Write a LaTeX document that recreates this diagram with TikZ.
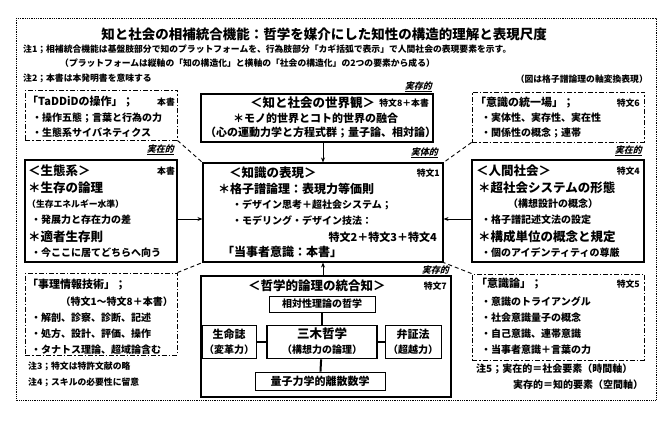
\documentclass[tikz,border=0pt]{standalone}
\usepackage{fontspec}
\setmainfont{Noto Sans CJK JP}
\newfontfamily\tagfont{Noto Sans CJK JP}[FakeSlant=0.25]
\usetikzlibrary{arrows.meta}
\newcommand\ftitle{\fontsize{13.5}{15}\selectfont\bfseries}
\newcommand\fhead{\fontsize{12.5}{14}\selectfont\bfseries}
\newcommand\fstar{\fontsize{12}{14}\selectfont\bfseries}
\newcommand\fsub{\fontsize{11}{13}\selectfont\bfseries}
\newcommand\fitem{\fontsize{10}{12}\selectfont\bfseries}
\newcommand\fnote{\fontsize{8.8}{10}\selectfont\bfseries}
\tikzset{
  sbox/.style={draw,line width=1.1pt,inner sep=0pt},
  ibox/.style={draw,line width=0.8pt,inner sep=0pt},
  dbox/.style={draw,line width=0.9pt,dash pattern=on 5pt off 2pt on 1.5pt off 2pt,inner sep=0pt},
  lt/.style={anchor=west,inner sep=0pt},
  rt/.style={anchor=east,inner sep=0pt},
  ct/.style={inner sep=0pt},
  tag/.style={anchor=east,inner sep=0pt,font=\tagfont\bfseries\fontsize{9}{10}\selectfont},
  arr/.style={-{Stealth[length=5pt,width=4pt]},line width=0.8pt},
  dlink/.style={line width=0.9pt,dash pattern=on 4pt off 3pt},
  tie/.style={line width=2pt}
}
\begin{document}
\begin{tikzpicture}[x=1pt,y=-1pt]
\useasboundingbox (0,0) rectangle (669,422);
\draw[densely dotted,line width=0.8pt] (16,18) rectangle (656,400);

% heading and notes
\node[ct,font=\ftitle] (title) at (324,34) {知と社会の相補統合機能：哲学を媒介にした知性の構造的理解と表現尺度};
\node[lt,font=\fnote] (n1) at (23,49) {注1；相補統合機能は基盤肢部分で知のプラットフォームを、行為肢部分「カギ括弧で表示」で人間社会の表現要素を示す。};
\node[lt,font=\fnote] (n1b) at (60,63) {（プラットフォームは縦軸の「知の構造化」と横軸の「社会の構造化」の2つの要素から成る）};
\node[lt,font=\fnote] (n2) at (23,78) {注2；本書は本発明書を意味する};
\node[rt,font=\fnote] (fig) at (648,79) {（図は格子譜論理の軸変換表現）};

% upper row
\node[dbox,minimum width=152pt,minimum height=50pt] (taddid) at (101,115) {};
\node[lt,font=\fsub] at (27,102) {「TaDDiDの操作」；};
\node[rt,font=\fnote] at (175,102) {本書};
\node[lt,font=\fitem] at (32,118) {・操作五態；言葉と行為の力};
\node[lt,font=\fitem] at (32,133) {・生態系サイバネティクス};

\node[sbox,minimum width=232pt,minimum height=48pt] (world) at (317,118) {};
\node[tag] at (432,87) {\underline{実存的}};
\node[lt,font=\fhead] at (250,103) {＜知と社会の世界観＞};
\node[rt,font=\fnote] at (429,103) {特文8＋本書};
\node[lt,font=\fsub] at (233,118) {＊モノ的世界とコト的世界の融合};
\node[lt,font=\fsub] at (205,133) {（心の運動力学と方程式群；量子論、相対論）};

\node[dbox,minimum width=172pt,minimum height=50pt] (unity) at (558,117) {};
\node[lt,font=\fsub] at (475,103) {「意識の統一場」；};
\node[rt,font=\fnote] at (640,103) {特文6};
\node[lt,font=\fitem] at (481,118) {・実体性、実存性、実在性};
\node[lt,font=\fitem] at (481,133) {・関係性の概念；連帯};

% middle row
\node[sbox,minimum width=152pt,minimum height=102pt] (eco) at (101,211) {};
\node[tag] at (174,150) {\underline{実在的}};
\node[lt,font=\fhead] at (28,171) {＜生態系＞};
\node[rt,font=\fnote] at (175,171) {本書};
\node[lt,font=\fhead] at (28,188) {＊生存の論理};
\node[lt,font=\fnote] at (27,204) {（生存エネルギー水準）};
\node[lt,font=\fitem] at (31,220) {・発展力と存在力の差};
\node[lt,font=\fhead] at (28,237) {＊適者生存則};
\node[lt,font=\fitem] at (31,253) {・今ここに居てどちらへ向う};

\node[sbox,minimum width=240pt,minimum height=99pt] (know) at (323,212.5) {};
\node[tag] at (438,153) {\underline{実体的}};
\node[lt,font=\fhead] at (229,173) {＜知識の表現＞};
\node[rt,font=\fnote] at (440,173) {特文1};
\node[lt,font=\fstar] at (218,189) {＊格子譜論理：表現力等価則};
\node[lt,font=\fitem] at (232,205) {・デザイン思考＋超社会システム；};
\node[lt,font=\fitem] at (232,221) {・モデリング・デザイン技法：};
\node[rt,font=\fsub] at (437,237) {特文2＋特文3＋特文4};
\node[lt,font=\fstar] at (222,252) {「当事者意識：本書」};

\node[sbox,minimum width=172pt,minimum height=102pt] (human) at (558,211) {};
\node[tag] at (642,151) {\underline{実在的}};
\node[lt,font=\fhead] at (476,171) {＜人間社会＞};
\node[rt,font=\fnote] at (640,171) {特文4};
\node[lt,font=\fhead] at (478,188) {＊超社会システムの形態};
\node[lt,font=\fitem] at (508,204) {（構想設計の概念）};
\node[lt,font=\fitem] at (481,220) {・格子譜記述文法の設定};
\node[lt,font=\fhead] at (478,237) {＊構成単位の概念と規定};
\node[lt,font=\fitem] at (481,253) {・個のアイデンティティの尊厳};

% lower row
\node[dbox,minimum width=152pt,minimum height=82pt] (tech) at (101,314) {};
\node[lt,font=\fsub] at (27,285) {「事理情報技術」；};
\node[rt,font=\fitem] at (173,302) {（特文1～特文8＋本書）};
\node[lt,font=\fitem] at (31,318) {・解剖、診察、診断、記述};
\node[lt,font=\fitem] at (31,334) {・処方、設計、評価、操作};
\node[lt,font=\fitem] at (31,350) {・タナトス理論、超域論含む};
\node[lt,font=\fnote] (n3) at (28,366) {注3；特文は特許文献の略};
\node[lt,font=\fnote] (n4) at (28,382) {注4；スキルの必要性に留意};

\node[sbox,minimum width=250pt,minimum height=121pt] (philo) at (326,336.5) {};
\node[tag] at (449,271) {\underline{実存的}};
\node[lt,font=\fhead] at (248,286) {＜哲学的論理の統合知＞};
\node[rt,font=\fnote] at (447,286) {特文7};
\node[ibox,minimum width=106pt,minimum height=16pt,font=\fitem] (rel) at (322,304) {相対性理論の哲学};
\node[ibox,minimum width=54pt,minimum height=33pt] (life) at (229,342) {};
\node[ct,font=\fsub] at (229,334) {生命誌};
\node[ct,font=\fitem] at (229,350) {（変革力）};
\node[sbox,line width=1.6pt,minimum width=110pt,minimum height=33pt] (miki) at (322,342) {};
\node[ct,font=\fhead] at (322,334) {三木哲学};
\node[ct,font=\fitem] at (322,350) {（構想力の論理）};
\node[ibox,minimum width=56pt,minimum height=33pt] (dial) at (413,342) {};
\node[ct,font=\fsub] at (413,334) {弁証法};
\node[ct,font=\fitem] at (413,350) {（超越力）};
\node[ibox,minimum width=130pt,minimum height=18pt,font=\fsub] (qm) at (320,381) {量子力学的離散数学};

\node[dbox,minimum width=172pt,minimum height=86pt] (cons) at (558,317) {};
\node[lt,font=\fsub] at (476,284) {「意識論」；};
\node[rt,font=\fnote] at (640,284) {特文5};
\node[lt,font=\fitem] at (481,302) {・意識のトライアングル};
\node[lt,font=\fitem] at (481,318) {・社会意識量子の概念};
\node[lt,font=\fitem] at (481,334) {・自己意識、連帯意識};
\node[lt,font=\fitem] at (481,350) {・当事者意識＋言葉の力};
\node[lt,font=\fitem] (n5) at (476,369) {注5；実在的＝社会要素（時間軸）};
\node[lt,font=\fitem] (n5b) at (513,385) {実存的＝知的要素（空間軸）};

% connectors
\draw[arr] (know.north |- world.south) -- (know.north);
\draw[arr] (know.south |- philo.north) -- (know.south);
\coordinate (e1) at ([yshift=-8pt]eco.east);
\coordinate (h1) at ([yshift=-8pt]human.west);
\draw[arr] (e1) -- (e1 -| know.west);
\draw[arr] (h1) -- (h1 -| know.east);
\draw[dlink] (taddid.south east) -- (know.north west);
\draw[dlink] (unity.south west) -- (know.north east);
\draw[dlink] (tech.north east) -- (know.south west);
\draw[dlink] (cons.north west) -- (know.south east);
\draw[tie] (rel) -- (miki);
\draw[tie] (life) -- (miki);
\draw[tie] (miki) -- (dial);
\draw[tie] (miki) -- (qm);
\end{tikzpicture}
\end{document}
